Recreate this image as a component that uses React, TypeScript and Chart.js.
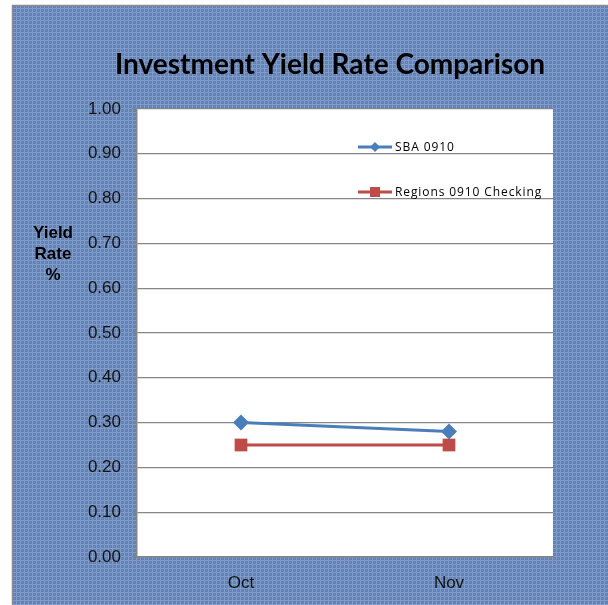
import React, { useEffect, useRef } from "react";
import { Chart, registerables } from "chart.js";

Chart.register(...registerables);

const categories = ["Oct", "Nov"];
const sbaValues = [0.3, 0.28];
const regionsValues = [0.25, 0.25];
const seriesNames = ["SBA 0910", "Regions 0910 Checking"];
const titleText = "Investment Yield Rate Comparison";
const yTitleLines = ["Yield", "Rate", "%"];

const BLUE = "#4a7ebb";
const RED = "#be4b48";

function makePattern(ctx: CanvasRenderingContext2D) {
  const c = document.createElement("canvas");
  c.width = 4;
  c.height = 4;
  const g = c.getContext("2d")!;
  g.fillStyle = "rgb(98,128,180)";
  g.fillRect(0, 0, 4, 4);
  g.fillStyle = "rgb(128,156,200)";
  g.fillRect(0, 0, 4, 1);
  g.fillRect(0, 0, 1, 4);
  g.fillStyle = "rgb(112,142,190)";
  g.fillRect(2, 2, 1, 1);
  return ctx.createPattern(c, "repeat")!;
}

const decorPlugin = {
  id: "decor",
  beforeDraw(chart: any) {
    const ctx = chart.ctx as CanvasRenderingContext2D;
    const { left, top, right, bottom } = chart.chartArea;
    ctx.save();
    ctx.fillStyle = "#ffffff";
    ctx.fillRect(0, 0, chart.width, chart.height);
    ctx.fillStyle = makePattern(ctx);
    ctx.fillRect(12, 5, chart.width - 12, chart.height - 5);
    ctx.strokeStyle = "#8a8a8a";
    ctx.lineWidth = 1.5;
    ctx.beginPath();
    ctx.moveTo(12.5, chart.height);
    ctx.lineTo(12.5, 5.5);
    ctx.lineTo(chart.width, 5.5);
    ctx.stroke();
    ctx.fillStyle = "#ffffff";
    ctx.fillRect(left, top, right - left, bottom - top);
    // title
    ctx.fillStyle = "#000000";
    ctx.font = "bold 28px Lato";
    ctx.textAlign = "center";
    ctx.textBaseline = "middle";
    ctx.fillText(titleText, 330, 65);
    // y title
    ctx.font = "bold 17px 'Liberation Sans'";
    const ys = [233, 254, 275];
    yTitleLines.forEach((t, i) => ctx.fillText(t, 53, ys[i]));
    ctx.restore();
  },
  afterDatasetsDraw(chart: any) {
    const ctx = chart.ctx as CanvasRenderingContext2D;
    ctx.save();
    const items = [
      { y: 147, color: BLUE, shape: "diamond" },
      { y: 192, color: RED, shape: "square" },
    ];
    items.forEach((it, i) => {
      ctx.strokeStyle = it.color;
      ctx.lineWidth = 3;
      ctx.beginPath();
      ctx.moveTo(358, it.y);
      ctx.lineTo(392, it.y);
      ctx.stroke();
      ctx.fillStyle = it.color;
      if (it.shape === "diamond") {
        ctx.beginPath();
        ctx.moveTo(375, it.y - 5);
        ctx.lineTo(380, it.y);
        ctx.lineTo(375, it.y + 5);
        ctx.lineTo(370, it.y);
        ctx.closePath();
        ctx.fill();
      } else {
        ctx.fillRect(370, it.y - 5, 10, 10);
      }
      ctx.fillStyle = "#000000";
      ctx.font = "12px 'Open Sans'";
      (ctx as any).letterSpacing = "0.9px";
      ctx.textAlign = "left";
      ctx.textBaseline = "middle";
      ctx.fillText(seriesNames[i], 395, it.y + 1);
    });
    ctx.restore();
  },
};

export default function App() {
  const ref = useRef<HTMLCanvasElement>(null);
  useEffect(() => {
    const chart = new Chart(ref.current!, {
      type: "line",
      data: {
        labels: categories,
        datasets: [
          {
            label: seriesNames[0],
            data: sbaValues,
            borderColor: BLUE,
            backgroundColor: BLUE,
            borderWidth: 3,
            pointStyle: "rectRot",
            pointRadius: 8,
            pointBorderWidth: 0,
            tension: 0,
          },
          {
            label: seriesNames[1],
            data: regionsValues,
            borderColor: RED,
            backgroundColor: RED,
            borderWidth: 3,
            pointStyle: "rect",
            pointRadius: 9,
            pointBorderWidth: 0,
            tension: 0,
          },
        ],
      },
      options: {
        animation: false,
        responsive: false,
        devicePixelRatio: 1,
        layout: { padding: { left: 0, top: 109, right: 55, bottom: 0 } },
        plugins: { legend: { display: false }, title: { display: false }, tooltip: { enabled: false } },
        scales: {
          x: {
            offset: true,
            grid: { offset: true, drawOnChartArea: false, color: "#868686", tickLength: 6 },
            border: { color: "#868686", width: 1.5 },
            ticks: { color: "#111", font: { family: "'Liberation Sans'", size: 17 }, padding: 10 },
            afterFit(s: any) { s.height = 48; },
          },
          y: {
            min: 0,
            max: 1,
            ticks: {
              stepSize: 0.1,
              color: "#111",
              font: { family: "'Liberation Sans'", size: 17 },
              padding: 11,
              callback: (v: any) => Number(v).toFixed(2),
            },
            grid: { color: "#868686", lineWidth: 1.2, tickLength: 5 },
            border: { color: "#868686", width: 1.5 },
            afterFit(s: any) { s.width = 137; },
          },
        },
      },
      plugins: [decorPlugin],
    });
    return () => chart.destroy();
  }, []);
  return (
    <div style={{ position: "absolute", left: 0, top: 0, width: 608, height: 605 }}>
      <canvas ref={ref} width={608} height={605} style={{ width: 608, height: 605 }} />
    </div>
  );
}
